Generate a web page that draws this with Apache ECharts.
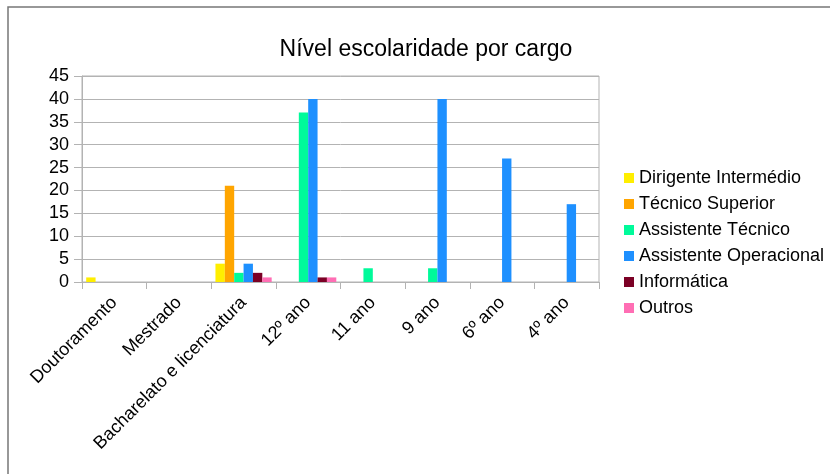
<!DOCTYPE html>
<html>
<head>
<meta charset="utf-8">
<script src="https://cdn.jsdelivr.net/npm/echarts@6/dist/echarts.min.js"></script>
<style>
  html, body { margin: 0; padding: 0; background: #fff; }
  #chart { width: 830px; height: 474px; }
</style>
</head>
<body>
<div id="chart"></div>
<script>
// categorias (eixo x)
var categorias = ["Doutoramento", "Mestrado", "Bacharelato e licenciatura", "12º ano", "11 ano", "9 ano", "6º ano", "4º ano"];
// valores por cargo
var dirigenteIntermedio = [1, 0, 4, 0, 0, 0, 0, 0];
var tecnicoSuperior = [0, 0, 21, 0, 0, 0, 0, 0];
var assistenteTecnico = [0, 0, 2, 37, 3, 3, 0, 0];
var assistenteOperacional = [0, 0, 4, 40, 0, 40, 27, 17];
var informatica = [0, 0, 2, 1, 0, 0, 0, 0];
var outros = [0, 0, 1, 1, 0, 0, 0, 0];
var nomes = ["Dirigente Intermédio", "Técnico Superior", "Assistente Técnico", "Assistente Operacional", "Informática", "Outros"];
var cores = ["#ffee00", "#ffa500", "#00fa9a", "#1e90ff", "#7b0025", "#ff6eb4"];
var valores = [dirigenteIntermedio, tecnicoSuperior, assistenteTecnico, assistenteOperacional, informatica, outros];

var myChart = echarts.init(document.getElementById("chart"));
var font = "Liberation Sans";

myChart.setOption({
  animation: false,
  color: cores,
  title: {
    text: "Nível escolaridade por cargo",
    left: 421,
    textAlign: "center",
    top: 33,
    textStyle: { fontFamily: font, fontSize: 23, fontWeight: "normal", color: "#000" }
  },
  legend: {
    orient: "vertical",
    left: 619,
    top: 163,
    itemWidth: 10,
    itemHeight: 10,
    itemGap: 6,
    icon: "rect",
    textStyle: { fontFamily: font, fontSize: 18, color: "#000", lineHeight: 20 },
    data: nomes
  },
  grid: {
    left: 82,
    right: 231,
    top: 76,
    bottom: 192,
    show: true,
    borderColor: "#b3b3b3",
    borderWidth: 1
  },
  xAxis: {
    type: "category",
    data: categorias,
    axisLine: { lineStyle: { color: "#b3b3b3" } },
    axisTick: { show: true, length: 7, lineStyle: { color: "#b3b3b3" } },
    axisLabel: { rotate: 45, interval: 0, fontFamily: font, fontSize: 18, color: "#000", margin: 18 },
    splitLine: { show: false }
  },
  yAxis: {
    type: "value",
    min: 0,
    max: 45,
    interval: 5,
    axisLine: { show: true, lineStyle: { color: "#b3b3b3" } },
    axisTick: { show: true, length: 8, lineStyle: { color: "#b3b3b3" } },
    axisLabel: { fontFamily: font, fontSize: 18, color: "#000", margin: 13 },
    splitLine: { lineStyle: { color: "#b3b3b3" } }
  },
  graphic: [
    {
      type: "rect",
      shape: { x: 8, y: 7, width: 840, height: 480 },
      style: { fill: null, stroke: "#777", lineWidth: 1.5 },
      silent: true
    }
  ],
  series: nomes.map(function (n, i) {
    return {
      name: n,
      type: "bar",
      data: valores[i],
      barGap: "0%",
      barCategoryGap: "13%"
    };
  })
});
</script>
</body>
</html>
